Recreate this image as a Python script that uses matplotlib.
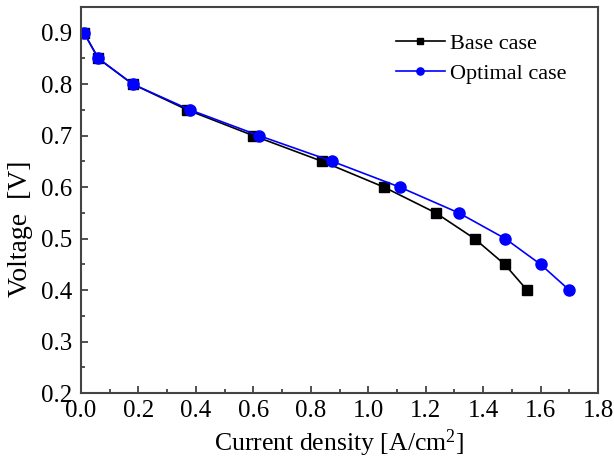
import matplotlib
matplotlib.use("Agg")
import matplotlib.pyplot as plt
from matplotlib.ticker import MultipleLocator, FormatStrFormatter

plt.rcParams['font.family'] = ['Liberation Serif', 'DejaVu Serif']
plt.rcParams['mathtext.fontset'] = 'custom'
plt.rcParams['mathtext.rm'] = 'Liberation Serif'

# Polarization curves
base_current = [0.01, 0.06, 0.18, 0.37, 0.60, 0.84, 1.055, 1.235, 1.37, 1.475, 1.553]
base_voltage = [0.90, 0.85, 0.80, 0.75, 0.70, 0.65, 0.60, 0.55, 0.50, 0.45, 0.40]
opt_current = [0.01, 0.06, 0.18, 0.38, 0.62, 0.875, 1.11, 1.315, 1.477, 1.60, 1.70]
opt_voltage = [0.90, 0.85, 0.80, 0.75, 0.70, 0.65, 0.60, 0.55, 0.50, 0.45, 0.40]

fig = plt.figure(figsize=(6.14, 4.63), dpi=100)
ax = fig.add_axes([0.132, 0.151, 0.842, 0.834])

ax.plot(base_current, base_voltage, color='black', marker='s', markersize=7,
        linewidth=1.2, label='Base case')
ax.plot(opt_current, opt_voltage, color='#0000ff', marker='o', markersize=8,
        linewidth=1.2, label='Optimal case')

ax.set_xlim(0.0, 1.8)
ax.set_ylim(0.2, 0.95)
ax.xaxis.set_major_locator(MultipleLocator(0.2))
ax.xaxis.set_minor_locator(MultipleLocator(0.1))
ax.yaxis.set_major_locator(MultipleLocator(0.1))
ax.yaxis.set_minor_locator(MultipleLocator(0.05))
ax.xaxis.set_major_formatter(FormatStrFormatter('%.1f'))
ax.yaxis.set_major_formatter(FormatStrFormatter('%.1f'))

ax.tick_params(which='both', direction='in', top=False, right=False,
               labelsize=18, width=1.2, colors='#333333', labelcolor='black')
ax.tick_params(which='major', length=5)
ax.tick_params(axis='x', which='major', pad=5)
ax.tick_params(axis='y', which='major', pad=6.5)
ax.tick_params(which='minor', length=3)
for s in ax.spines.values():
    s.set_linewidth(1.5)
    s.set_color('#444444')

ax.set_xlabel('Current density [A/cm$\\mathregular{^2}$]', fontsize=18.5)
ax.set_ylabel('Voltage  [V]', fontsize=20)
ax.yaxis.set_label_coords(-0.093, 0.426)

leg = ax.legend(loc='upper left', bbox_to_anchor=(396 / 614, 1 - 33 / 463),
                bbox_transform=fig.transFigure, frameon=False, fontsize=16,
                handlelength=2.2, borderaxespad=0, borderpad=0,
                handletextpad=0.25, labelspacing=0.45, markerscale=0.65)

fig.savefig('out.png', dpi=100)
